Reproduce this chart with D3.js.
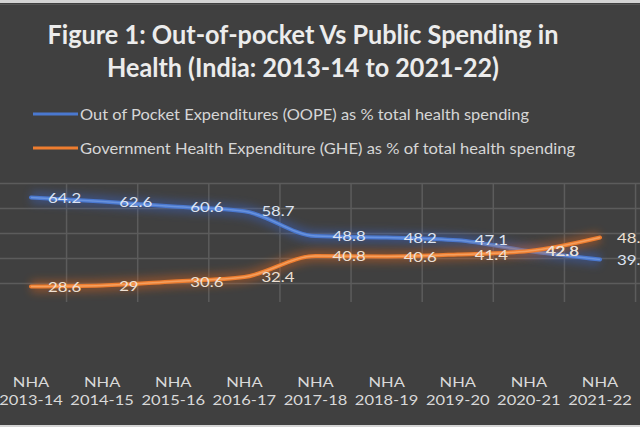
<!DOCTYPE html>
<html><head><meta charset="utf-8">
<script src="https://cdn.jsdelivr.net/npm/d3@7"></script>
<style>html,body{margin:0;padding:0;background:#404040;}svg{display:block;}</style>
</head><body>
<script>
const categories = ["2013-14","2014-15","2015-16","2016-17","2017-18","2018-19","2019-20","2020-21","2021-22"];
const catPrefix = "NHA";
const oope = [64.2, 62.6, 60.6, 58.7, 48.8, 48.2, 47.1, 42.8, 39.4];
const ghe  = [28.6, 29, 30.6, 32.4, 40.8, 40.6, 41.4, 42.8, 48.2];
const yTicks = [30, 40, 50, 60, 70];
const titleLines = ["Figure 1: Out-of-pocket Vs Public Spending in", "Health (India: 2013-14 to 2021-22)"];
const seriesNames = ["Out of Pocket Expenditures (OOPE) as %  total health spending",
                     "Government  Health Expenditure (GHE) as % of  total health spending"];

const W = 640, H = 427;
const svg = d3.select("body").append("svg").attr("width", W).attr("height", H);
const defs = svg.append("defs");
const f = defs.append("filter").attr("id","glow").attr("x","-20%").attr("y","-50%").attr("width","140%").attr("height","200%");
f.append("feGaussianBlur").attr("stdDeviation", 4);

svg.append("rect").attr("width", W).attr("height", H).attr("fill", "#404040");
svg.append("rect").attr("width", W).attr("height", 3).attr("fill", "#d4d4d4");
svg.append("rect").attr("y", 4).attr("width", W).attr("height", 1).attr("fill", "#555");
svg.append("rect").attr("y", H-2).attr("width", W).attr("height", 2).attr("fill", "#d4d4d4");

const FONT = "Lato, 'Open Sans', sans-serif";

// Title
const titleY = [44, 77], titleW = [511, 392];
titleLines.forEach((t,i) => {
  svg.append("text").attr("x", 303).attr("y", titleY[i]).attr("text-anchor","middle")
    .attr("font-family", FONT).attr("font-weight","bold").attr("font-size", 26)
    .attr("fill", "#ececec").attr("textLength", titleW[i]).attr("lengthAdjust","spacingAndGlyphs").text(t);
});

const colors = [{main:"#4a78cf", hi:"#6f98e0", glow:"#3b64c4", label:"#dde4f2"},
                {main:"#ee7d2f", hi:"#f5a86a", glow:"#d8641c", label:"#eee0d4"}];

// Legend
const legY = [114, 148], legW = [449, 495];
seriesNames.forEach((n,i) => {
  svg.append("line").attr("x1",33).attr("x2",78).attr("y1",legY[i]).attr("y2",legY[i])
    .attr("stroke", colors[i].main).attr("stroke-width", 3);
  svg.append("text").attr("x", 80).attr("y", legY[i]+6).attr("font-family", FONT).attr("font-size", 16)
    .attr("fill","#d6d6d6").attr("textLength", legW[i]).attr("lengthAdjust","spacingAndGlyphs").text(n);
});

// Scales
const x = d3.scalePoint().domain(categories).range([31, 600]);
const step = x.step();
const y = d3.scaleLinear().domain([30, 70]).range([283, 183]);
const plotBottom = 302;

// Grid
const g = svg.append("g");
g.selectAll(".hg").data(yTicks).join("line")
  .attr("x1", 0).attr("x2", W).attr("y1", d => Math.round(y(d))+0.5).attr("y2", d => Math.round(y(d))+0.5)
  .attr("stroke", "#5c5c5c").attr("stroke-width", 1.5);
g.selectAll(".vg").data(categories).join("line")
  .attr("x1", d => x(d)+step/2).attr("x2", d => x(d)+step/2)
  .attr("y1", y(70)).attr("y2", plotBottom)
  .attr("stroke", "#5c5c5c").attr("stroke-width", 1.5);

// Lines
const line = d3.line().x((d,i) => x(categories[i])).y(d => y(d)).curve(d3.curveMonotoneX);
[oope, ghe].forEach((s,i) => {
  svg.append("path").attr("d", line(s)).attr("fill","none").attr("stroke", colors[i].glow)
    .attr("stroke-width", 12).attr("opacity", 0.45).attr("filter","url(#glow)");
  svg.append("path").attr("d", line(s)).attr("fill","none").attr("stroke", colors[i].main)
    .attr("stroke-width", 4).attr("stroke-linecap","round");
  svg.append("path").attr("d", line(s)).attr("fill","none").attr("stroke", colors[i].hi)
    .attr("stroke-width", 1.5).attr("opacity", 0.8);
});

// Data labels
const stretch = 1.2;
[oope, ghe].forEach((s,i) => {
  s.forEach((v,j) => {
    const t = svg.append("text").attr("x", x(categories[j]) + 17).attr("y", y(v)).attr("dy","0.36em")
      .attr("font-family", FONT).attr("font-size", 14).attr("fill", colors[i].label).text(String(v));
    const len = t.node().getComputedTextLength();
    t.attr("textLength", len*stretch).attr("lengthAdjust","spacingAndGlyphs");
  });
});

// Category axis labels
const ax = svg.append("g");
categories.forEach(c => {
  [[catPrefix, 387],[c, 405]].forEach(([txt, yy]) => {
    const t = ax.append("text").attr("x", x(c)).attr("y", yy).attr("text-anchor","middle")
      .attr("font-family", FONT).attr("font-size", 14).attr("fill","#d9d9d9").text(txt);
    const len = t.node().getComputedTextLength();
    t.attr("textLength", len*1.18).attr("lengthAdjust","spacingAndGlyphs");
  });
});
</script>
</body></html>
